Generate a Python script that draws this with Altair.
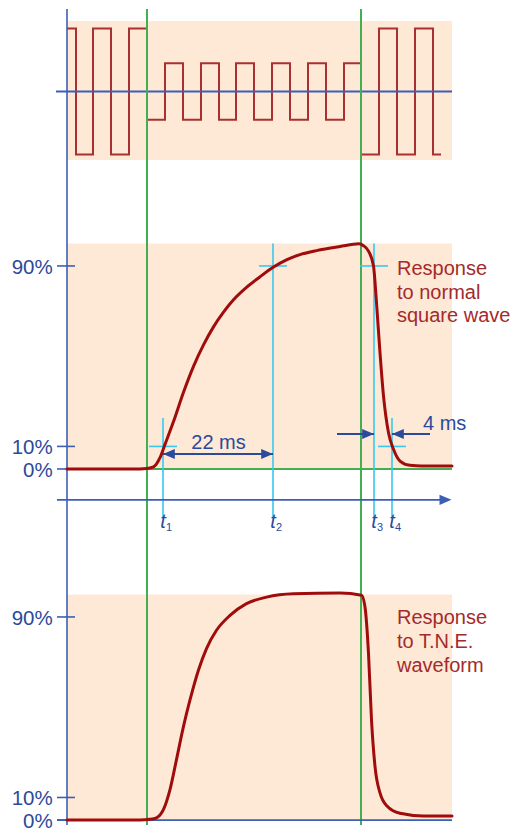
import altair as alt
import pandas as pd

# ---------------- data ----------------
# time axis in ms; 0 = left reference line
T_DOMAIN = [-11.8, 89.0]
REF_BLUE = [0.0]
REF_GREEN = [16.0, 58.8]
T_END = 77.0

# input square wave (step-after: time of each change, level after it)
sq_t = [0, 1.8, 5.2, 8.8, 12.4, 16.0, 19.6, 23.2, 26.8, 30.4, 33.8, 37.4,
        41.0, 44.6, 48.2, 51.8, 55.4, 58.8, 62.4, 66.0, 69.6, 73.2, 74.8]
sq_v = [1, -1, 1, -1, 1, -0.45, 0.45, -0.45, 0.45, -0.45, 0.45, -0.45,
        0.45, -0.45, 0.45, -0.45, 0.45, -1, 1, -1, 1, -1, -1]

# response to normal square wave (%)
norm_t = [0, 14.6, 16.0, 17.3, 18.6, 19.6, 21.3, 23.3, 25.3, 27.3, 29.3, 31.3,
          33.3, 35.9, 38.5, 41.3, 44.0, 46.6, 49.9, 54.6, 58.4, 59.3, 60.3,
          61.3, 61.9, 62.6, 63.3, 64.3, 65.3, 66.6, 68.6, 71.0, 77.0]
norm_v = [0, 0, 0.2, 0.9, 5.0, 10.9, 21.0, 34.0, 45.5, 55.0, 63.0, 69.5,
          75.0, 80.5, 85.0, 89.5, 92.8, 95.0, 96.8, 98.6, 99.8, 99.0, 96.6,
          90.0, 73.7, 51.5, 32.4, 16.1, 8.7, 3.5, 1.6, 1.3, 1.3]

# response to T.N.E. waveform (%)
tne_t = [0, 14.6, 16.5, 17.9, 19.3, 20.6, 21.9, 23.3, 24.6, 26.3, 27.9, 29.9,
         32.6, 35.9, 39.9, 45.3, 54.6, 58.9, 59.6, 60.3, 60.9, 61.6, 62.6,
         64.0, 66.6, 71.3, 77.0]
tne_v = [0, 0, 0.3, 1.0, 4.7, 13.5, 26.8, 41.5, 53.2, 66.5, 76.0, 84.1,
         90.7, 95.9, 98.8, 100.3, 100.6, 99.6, 94.4, 73.8, 44.4, 23.8, 12.0,
         6.2, 3.0, 1.8, 1.8]

# measurement instants t1..t4
mark_t = [19.2, 41.2, 61.4, 65.0]
mark_lvl = [10, 90, 90, 10]
mark_top = [22.6, 100, 100, 22.6]
mark_sub = ["1", "2", "3", "4"]

levels = [0, 10, 90]
level_labels = ["0%", "10%", "90%"]

# ---------------- style ----------------
NAVY = "#2b4a9b"
BLUE = "#3d5fb3"
GREEN = "#45ad52"
CYAN = "#38c8f2"
RED = "#a00c0c"
WAVE = "#a83030"
TEXT_RED = "#a52a2a"
PEACH = "#fde9d6"
FONT = "Liberation Sans"
W = 504
HEAD_R = "M0,0 L-1,-0.42 L-1,0.42 Z"
HEAD_L = "M0,0 L1,-0.42 L1,0.42 Z"

xs = alt.Scale(domain=T_DOMAIN, nice=False, zero=False)


def X(f):
    return alt.X(f"{f}:Q", scale=xs, axis=None)


def Y(f, dom):
    return alt.Y(f"{f}:Q", scale=alt.Scale(domain=dom, nice=False, zero=False), axis=None)


def shade(lo, hi, dom):
    df = pd.DataFrame({"t0": [0.0], "t1": [T_END], "v0": [lo], "v1": [hi]})
    return alt.Chart(df).mark_rect(color=PEACH).encode(
        x=X("t0"), x2="t1", y=Y("v0", dom), y2="v1")


def vlines():
    b = alt.Chart(pd.DataFrame({"t": REF_BLUE})).mark_rule(
        color=BLUE, strokeWidth=1.6).encode(x=X("t"))
    g = alt.Chart(pd.DataFrame({"t": REF_GREEN})).mark_rule(
        color=GREEN, strokeWidth=2).encode(x=X("t"))
    return [b, g]


def hseg(t0, t1, v, dom, color, width):
    df = pd.DataFrame({"t0": [t0], "t1": [t1], "v": [v]})
    return alt.Chart(df).mark_rule(color=color, strokeWidth=width).encode(
        x=X("t0"), x2="t1", y=Y("v", dom))


def level_ticks(dom):
    df = pd.DataFrame({"v": levels, "lab": level_labels,
                       "a": [-2.0] * 3, "b": [1.6] * 3, "lx": [-2.86] * 3})
    ticks = alt.Chart(df).mark_rule(color=BLUE, strokeWidth=1.6).encode(
        x=X("a"), x2="b", y=Y("v", dom))
    labs = alt.Chart(df).mark_text(
        align="right", baseline="alphabetic", dy=8, fontSize=20.5,
        font=FONT, color=NAVY).encode(x=X("lx"), y=Y("v", dom), text="lab:N")
    return [ticks, labs]


def curve(ts, vs, dom):
    df = pd.DataFrame({"t": ts, "v": vs})
    return alt.Chart(df).mark_line(
        interpolate="monotone", color=RED, strokeWidth=3, strokeCap="round").encode(
        x=X("t"), y=Y("v", dom))


def caption(lines, t, v, dom):
    df = pd.DataFrame({"t": [t], "v": [v]})
    return alt.Chart(df).mark_text(
        align="left", baseline="alphabetic", fontSize=20, lineHeight=23.6,
        font=FONT, color=TEXT_RED).encode(
        x=X("t"), y=Y("v", dom), text=alt.value(lines))


def heads(ts, vs, dom, path, color, size):
    df = pd.DataFrame({"t": ts, "v": vs})
    return alt.Chart(df).mark_point(
        shape=path, filled=True, opacity=1, size=size, color=color,
        strokeWidth=0).encode(x=X("t"), y=Y("v", dom))


# ---------------- panel 1: input ----------------
D1 = [-1.738, 1.31]
sq_df = pd.DataFrame({"t": sq_t, "v": sq_v})
p1 = alt.layer(
    shade(-1.087, 1.119, D1),
    alt.Chart(sq_df).mark_line(interpolate="step-after", color=WAVE,
                               strokeWidth=2).encode(
        x=X("t"), y=Y("v", D1)),
    hseg(-2.2, T_END, 0, D1, BLUE, 1.8),
    *vlines(),
).properties(width=W, height=192)

# ---------------- panel 2: normal response ----------------
D2 = [-40.8, 118.8]
mk = pd.DataFrame({"t": mark_t, "lvl": mark_lvl, "top": mark_top,
                   "bot": [-21.3] * 4, "a": [t - 2.8 for t in mark_t],
                   "b": [t + 2.8 for t in mark_t], "sub": mark_sub,
                   "ty": [-26.2] * 4, "sy": [-27.6] * 4})
cyan_v = alt.Chart(mk).mark_rule(color=CYAN, strokeWidth=1.6).encode(
    x=X("t"), y=Y("top", D2), y2="bot")
cyan_h = alt.Chart(mk).mark_rule(color=CYAN, strokeWidth=1.6).encode(
    x=X("a"), x2="b", y=Y("lvl", D2))
t_lab = alt.Chart(mk).mark_text(
    fontSize=20, fontStyle="italic", font=FONT, color=NAVY,
    baseline="alphabetic", align="center").encode(
    x=X("t"), y=Y("ty", D2), text=alt.value("t"))
t_sub = alt.Chart(mk).mark_text(
    fontSize=11, font=FONT, color=NAVY, baseline="alphabetic",
    align="center", dx=6).encode(x=X("t"), y=Y("sy", D2), text="sub:N")

arrows = pd.DataFrame({"a": [19.2, 54.0, 65.0], "b": [41.2, 61.4, 72.6],
                       "v": [6.6, 15.5, 15.5]})
arrow_shafts = alt.Chart(arrows).mark_rule(color=NAVY, strokeWidth=2).encode(
    x=X("a"), x2="b", y=Y("v", D2))
notes = pd.DataFrame({"t": [30.3, 71.2], "v": [8.7, 17.2],
                      "txt": ["22 ms", "4 ms"]})
note_22 = alt.Chart(notes.iloc[[0]]).mark_text(
    fontSize=20, font=FONT, color=NAVY, align="center", baseline="alphabetic").encode(
    x=X("t"), y=Y("v", D2), text="txt:N")
note_4 = alt.Chart(notes.iloc[[1]]).mark_text(
    fontSize=20, font=FONT, color=NAVY, align="left", baseline="alphabetic").encode(
    x=X("t"), y=Y("v", D2), text="txt:N")

p2 = alt.layer(
    shade(0, 100, D2),
    *vlines(),
    hseg(0, T_END, 0, D2, GREEN, 2),
    *level_ticks(D2),
    cyan_v, cyan_h,
    curve(norm_t, norm_v, D2),
    hseg(-2.0, 76.0, -13.7, D2, BLUE, 1.8),
    heads([76.9], [-13.7], D2, HEAD_R, BLUE, 576),
    arrow_shafts,
    heads([41.2, 61.4], [6.6, 15.5], D2, HEAD_R, NAVY, 560),
    heads([19.2, 65.0], [6.6, 15.5], D2, HEAD_L, NAVY, 560),
    note_22, note_4,
    t_lab, t_sub,
    caption(["Response", "to normal", "square wave"], 66.0, 85.9, D2),
).properties(width=W, height=360)

# ---------------- panel 3: T.N.E. response ----------------
D3 = [-2.2, 114.8]
p3 = alt.layer(
    shade(0, 100, D3),
    *vlines(),
    hseg(-2.0, T_END, 0, D3, BLUE, 1.8),
    *level_ticks(D3),
    curve(tne_t, tne_v, D3),
    caption(["Response", "to T.N.E.", "waveform"], 66.0, 86.7, D3),
).properties(width=W, height=264)

chart = alt.vconcat(p1, p2, p3, spacing=0, bounds="flush").resolve_scale(
    x="independent", y="independent"
).properties(padding=0, background="white").configure_view(stroke=None)

chart.save("out.html", embed_options={"renderer": "svg", "actions": False})
